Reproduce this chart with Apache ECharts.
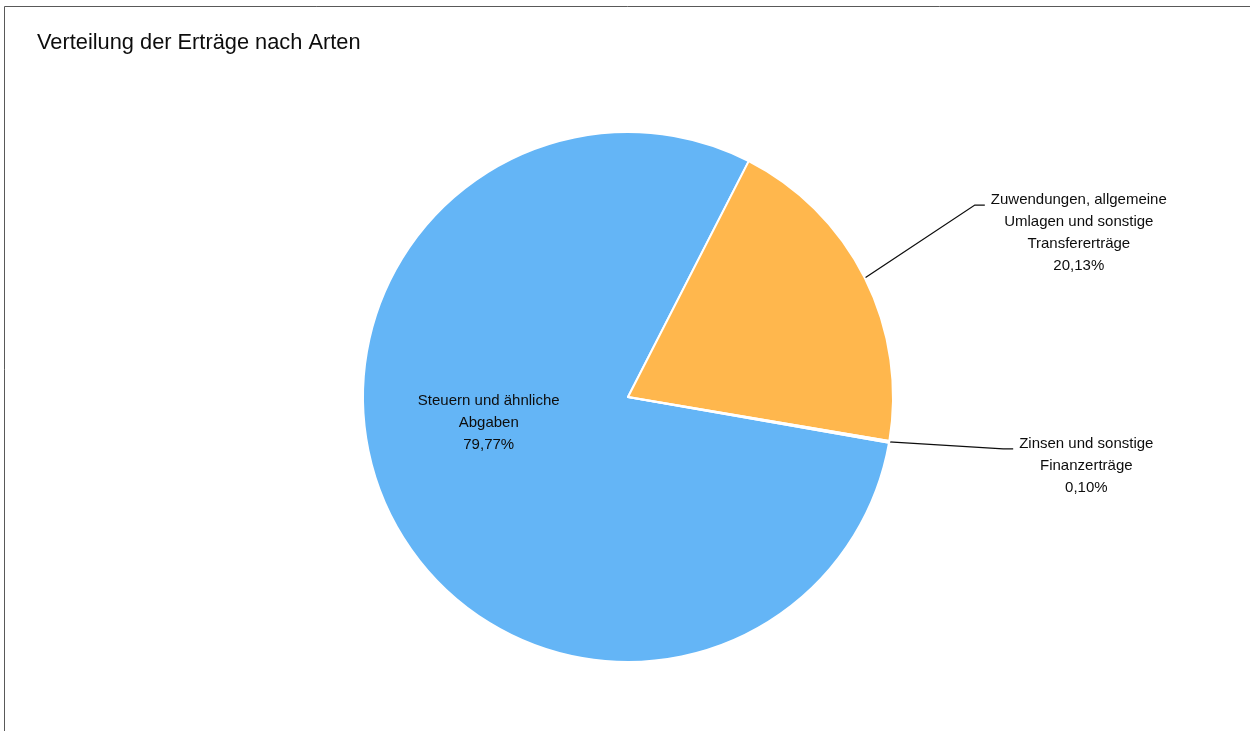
<!DOCTYPE html>
<html>
<head>
<meta charset="utf-8">
<title>Verteilung der Erträge nach Arten</title>
<script src="https://cdn.jsdelivr.net/npm/echarts@6/dist/echarts.min.js"></script>
<style>
  html, body { margin: 0; padding: 0; background: #fff; }
  #chart { width: 1250px; height: 731px; }
</style>
</head>
<body>
<div id="chart"></div>
<script>
const categories = [
  'Steuern und ähnliche\nAbgaben',
  'Zuwendungen, allgemeine\nUmlagen und sonstige\nTransfererträge',
  'Zinsen und sonstige\nFinanzerträge'
]
const shares = [79.77, 20.13, 0.10]
const colors = ['#64B5F6', '#FFB74D', '#FFB74D']

// where the leader line ends, relative to the point on the rim
const leaderOffsets = [null, [120, -73], [124, 7]]

const fmt = v => v.toFixed(2).replace('.', ',') + '%'

const chart = echarts.init(document.getElementById('chart'))

chart.setOption({
  animation: false,
  textStyle: { fontFamily: 'Liberation Sans, Arial, sans-serif' },
  title: {
    text: 'Verteilung der Erträge nach Arten',
    left: 37,
    top: 32,
    padding: 0,
    textStyle: { fontSize: 21.8, fontWeight: 'normal', color: '#0d0d0d', fontFamily: 'Liberation Sans, Arial, sans-serif' }
  },
  graphic: [{
    type: 'rect',
    silent: true,
    shape: { x: 4.5, y: 6.5, width: 1400, height: 900 },
    style: { fill: 'none', stroke: '#595959', lineWidth: 1 }
  }],
  series: [{
    type: 'pie',
    center: [628, 397],
    radius: 265,
    startAngle: -9.93,
    clockwise: true,
    avoidLabelOverlap: false,
    emphasis: { disabled: true },
    itemStyle: { borderColor: '#fff', borderWidth: 2 },
    label: {
      show: true,
      position: 'outside',
      color: '#0d0d0d',
      fontSize: 15,
      lineHeight: 22,
      fontFamily: 'Liberation Sans, Arial, sans-serif',
      formatter: p => p.name + '\n' + fmt(p.value)
    },
    labelLine: {
      show: true,
      length: 30,
      length2: 10,
      lineStyle: { color: '#0d0d0d', width: 1.3 }
    },
    labelLayout: function (params) {
      const off = leaderOffsets[params.dataIndex]
      if (!off) return { dx: -18, dy: -35 }
      const rim = params.labelLinePoints[0]
      const end = [rim[0] + off[0], rim[1] + off[1]]
      return {
        x: end[0] + 6 + params.labelRect.width / 2,
        y: end[1] - 16,
        align: 'center',
        verticalAlign: 'top',
        labelLinePoints: [rim, [end[0] - 10, end[1]], end]
      }
    },
    data: categories.map((name, i) => ({
      name: name,
      value: shares[i],
      itemStyle: { color: colors[i] },
      label: i === 0 ? { position: 'inside', align: 'center' } : {},
      labelLine: i === 0 ? { show: false } : {}
    }))
  }]
})
</script>
</body>
</html>
